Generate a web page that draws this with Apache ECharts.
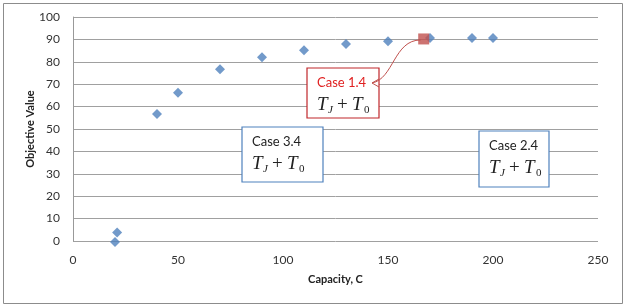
<!DOCTYPE html>
<html><head><meta charset="utf-8">
<script src="https://cdn.jsdelivr.net/npm/echarts@6/dist/echarts.min.js"></script>
<style>html,body{margin:0;padding:0;background:#fff}#c{width:633px;height:306px}</style>
</head><body><div id="c"></div>
<script>
const capacity = [20, 21, 40, 50, 70, 90, 110, 130, 150, 170, 190, 200];
const objective = [-0.5, 3.8, 56.7, 66.2, 76.7, 82.0, 85.2, 88.0, 89.2, 90.6, 90.6, 90.6];
const case14 = [[167, 90.2]];
const case14Line = 167;
const xTicks = {min: 0, max: 250, interval: 50};
const yTicks = {min: 0, max: 100, interval: 10};

const chart = echarts.init(document.getElementById('c'));
const font = 'Lato, "Open Sans", sans-serif';
chart.setOption({
  animation: false,
  backgroundColor: '#fff',
  grid: {left: 73, right: 35, top: 17, bottom: 65},
  xAxis: {
    type: 'value', min: xTicks.min, max: xTicks.max, interval: xTicks.interval,
    name: 'Capacity, C', nameLocation: 'middle', nameGap: 33, nameMoveOverlap: false,
    nameTextStyle: {fontFamily: font, fontWeight: 'bold', fontSize: 11, color: '#222'},
    axisLine: {show: false}, axisTick: {show: false}, splitLine: {show: false},
    axisLabel: {fontFamily: font, fontSize: 12, color: '#333', margin: 13}
  },
  yAxis: {
    type: 'value', min: yTicks.min, max: yTicks.max, interval: yTicks.interval,
    name: 'Objective Value', nameLocation: 'middle', nameGap: 37, nameMoveOverlap: false,
    nameTextStyle: {fontFamily: font, fontWeight: 'bold', fontSize: 11, color: '#222'},
    axisLine: {show: true, lineStyle: {color: '#999'}}, axisTick: {show: false},
    splitLine: {show: true, lineStyle: {color: '#a0a0a0', width: 1}},
    axisLabel: {fontFamily: font, fontSize: 12, color: '#333', margin: 13}
  },
  series: [
    {
      type: 'scatter', symbol: 'diamond', symbolSize: 10, clip: false,
      itemStyle: {color: '#4f81bd'},
      data: capacity.map((c, i) => [c, objective[i]]),
      z: 3
    },
    {
      type: 'scatter', symbol: 'rect', symbolSize: 11, clip: false,
      itemStyle: {color: '#c0504d'},
      data: case14, z: 4,
      markLine: {
        silent: true, symbol: 'none', label: {show: false},
        lineStyle: {color: '#b03a38', width: 1, type: 'solid'},
        data: [[{coord: [case14Line, case14[0][1]]}, {coord: [case14Line, -1.5]}]]
      }
    }
  ]
});

function mathText(x, y, color) {
  const ser = '"Liberation Serif", "DejaVu Serif", serif';
  const big = {fontFamily: ser, fontStyle: 'italic', fontSize: 19, fill: color || '#222', verticalAlign: 'middle'};
  const sub = {fontFamily: ser, fontStyle: 'italic', fontSize: 11, fill: color || '#222', verticalAlign: 'middle'};
  return [
    {type: 'text', x: x, y: y, style: Object.assign({text: 'T'}, big)},
    {type: 'text', x: x + 11, y: y + 5, style: Object.assign({text: 'J'}, sub)},
    {type: 'text', x: x + 20, y: y, style: Object.assign({text: '+'}, big, {fontStyle: 'normal'})},
    {type: 'text', x: x + 35, y: y, style: Object.assign({text: 'T'}, big)},
    {type: 'text', x: x + 47, y: y + 5, style: Object.assign({text: '0'}, sub, {fontStyle: 'normal'})}
  ];
}

function box(x, y, w, h, stroke, title, titleColor) {
  return {
    type: 'group', children: [
      {type: 'rect', shape: {x: x, y: y, width: w, height: h}, style: {fill: '#fff', stroke: stroke, lineWidth: 1.2}},
      {type: 'text', x: x + 10, y: y + 15, style: {text: title, fontFamily: font, fontSize: 13, fill: titleColor, verticalAlign: 'middle'}}
    ].concat(mathText(x + 10, y + 37))
  };
}

const p = chart.convertToPixel({gridIndex: 0}, case14[0]);
chart.setOption({
  graphic: [
    {type: 'rect', shape: {x: 3.5, y: 3.5, width: 619, height: 300}, style: {fill: 'none', stroke: '#8c8c8c', lineWidth: 1}, z: 0},
    box(307, 68, 72, 50, '#c0262a', 'Case 1.4', '#e02020'),
    box(242, 127, 81, 55, '#4f81bd', 'Case 3.4', '#222'),
    box(479, 131, 70, 56, '#4f81bd', 'Case 2.4', '#222'),
    {type: 'bezierCurve', shape: {x1: p[0] - 3, y1: p[1] + 1, cpx1: p[0] - 30, cpy1: p[1] + 1, cpx2: p[0] - 30, cpy2: p[1] + 40, x2: 372, y2: 83},
      style: {stroke: '#c0504d', lineWidth: 1, fill: 'none'}, z: 10},
    {type: 'polyline', shape: {points: [[379, 79], [372, 83], [379, 87]]}, style: {stroke: '#c0504d', lineWidth: 1, fill: 'none'}, z: 10}
  ]
});
</script></body></html>
